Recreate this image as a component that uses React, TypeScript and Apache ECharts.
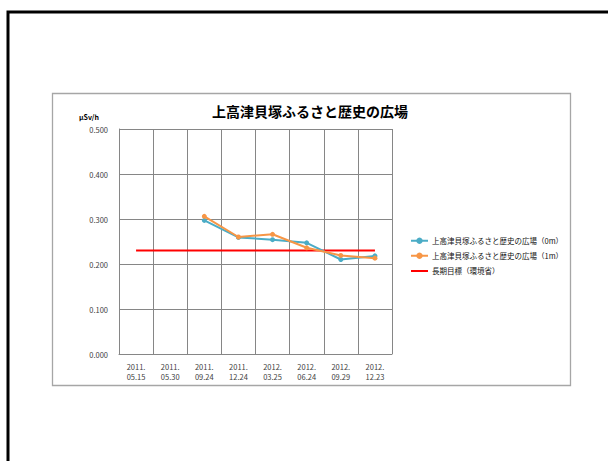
import React, { useEffect, useRef } from "react";
import * as echarts from "echarts";

const categories = [
  "2011.\n05.15",
  "2011.\n05.30",
  "2011.\n09.24",
  "2011.\n12.24",
  "2012.\n03.25",
  "2012.\n06.24",
  "2012.\n09.29",
  "2012.\n12.23",
];
const series0m = [null, null, 0.297, 0.259, 0.254, 0.247, 0.21, 0.218];
const series1m = [null, null, 0.306, 0.26, 0.266, 0.236, 0.219, 0.213];
const target = [0.23, 0.23, 0.23, 0.23, 0.23, 0.23, 0.23, 0.23];
const yTicks = { min: 0, max: 0.5, interval: 0.1 };

const titleText = "上高津貝塚ふるさと歴史の広場";
const name0m = "上高津貝塚ふるさと歴史の広場（0m）";
const name1m = "上高津貝塚ふるさと歴史の広場（1m）";
const nameTarget = "長期目標（環境省）";
const unitText = "µSv/h";

const FONT = "'Noto Sans CJK JP', 'Noto Sans', sans-serif";
const LINE_ICON =
  "path://M0,0L0.01,0L0.01,0.01Z M0,3 L17,3 L17,5 L0,5 Z M16.99,7.99L17,7.99L17,8Z";

export default function App() {
  const ref = useRef<HTMLDivElement>(null);
  useEffect(() => {
    if (!ref.current) return;
    const chart = echarts.init(ref.current, null, { renderer: "svg" });
    chart.setOption({
      animation: false,
      backgroundColor: "#ffffff",
      textStyle: { fontFamily: FONT },
      title: {
        text: titleText,
        left: 305,
        top: 99,
        textAlign: "center",
        textStyle: { fontSize: 14, fontWeight: "bold", color: "#000", fontFamily: FONT },
      },
      graphic: [
        {
          type: "polyline",
          shape: { points: [[8, 461], [8, 12], [608, 12]] },
          style: { stroke: "#000", lineWidth: 3, fill: "none" },
        },
        {
          type: "rect",
          shape: { x: 52.5, y: 93.5, width: 518, height: 292 },
          style: { stroke: "#A6A6A6", lineWidth: 1.3, fill: "none" },
        },
        {
          type: "text",
          x: 89,
          y: 117,
          style: {
            text: unitText,
            fontSize: 7,
            fontWeight: "bold",
            fill: "#000",
            align: "center",
            verticalAlign: "middle",
            fontFamily: FONT,
          },
        },
      ],
      legend: {
        orient: "vertical",
        left: 405,
        top: 232,
        itemWidth: 17,
        itemHeight: 8,
        itemGap: 7.5,
        textStyle: { fontSize: 7.5, color: "#111", fontFamily: FONT, padding: [0, 0, 0, -1] },
        data: [
          { name: name0m },
          { name: name1m },
          { name: nameTarget, icon: LINE_ICON },
        ],
      },
      grid: { left: 119, right: 216, top: 129, bottom: 107 },
      xAxis: {
        type: "category",
        data: categories,
        boundaryGap: true,
        axisLine: { show: true, lineStyle: { color: "#868686", width: 1 } },
        axisTick: { show: false },
        splitLine: { show: true, lineStyle: { color: "#868686", width: 1 } },
        axisLabel: {
          interval: 0,
          fontSize: 7.5,
          color: "#404040",
          lineHeight: 9.5,
          margin: 8,
          fontFamily: FONT,
        },
      },
      yAxis: {
        type: "value",
        min: yTicks.min,
        max: yTicks.max,
        interval: yTicks.interval,
        axisLine: { show: true, lineStyle: { color: "#868686", width: 1 } },
        axisTick: { show: false },
        splitLine: { show: true, lineStyle: { color: "#868686", width: 1 } },
        axisLabel: {
          fontSize: 7.5,
          color: "#404040",
          margin: 11,
          fontFamily: FONT,
          formatter: (v: number) => v.toFixed(3),
        },
      },
      series: [
        {
          name: nameTarget,
          type: "line",
          data: target,
          symbol: "none",
          lineStyle: { color: "#FF0000", width: 2 },
          itemStyle: { color: "#FF0000" },
          z: 3,
        },
        {
          name: name0m,
          type: "line",
          data: series0m,
          symbol: "circle",
          symbolSize: 5,
          lineStyle: { color: "#4BACC6", width: 2 },
          itemStyle: { color: "#4BACC6" },
          z: 4,
        },
        {
          name: name1m,
          type: "line",
          data: series1m,
          symbol: "circle",
          symbolSize: 5,
          lineStyle: { color: "#F79646", width: 2 },
          itemStyle: { color: "#F79646" },
          z: 5,
        },
      ],
    });
    return () => chart.dispose();
  }, []);
  return (
    <div
      ref={ref}
      style={{ position: "absolute", left: 0, top: 0, width: 608, height: 461 }}
    />
  );
}
